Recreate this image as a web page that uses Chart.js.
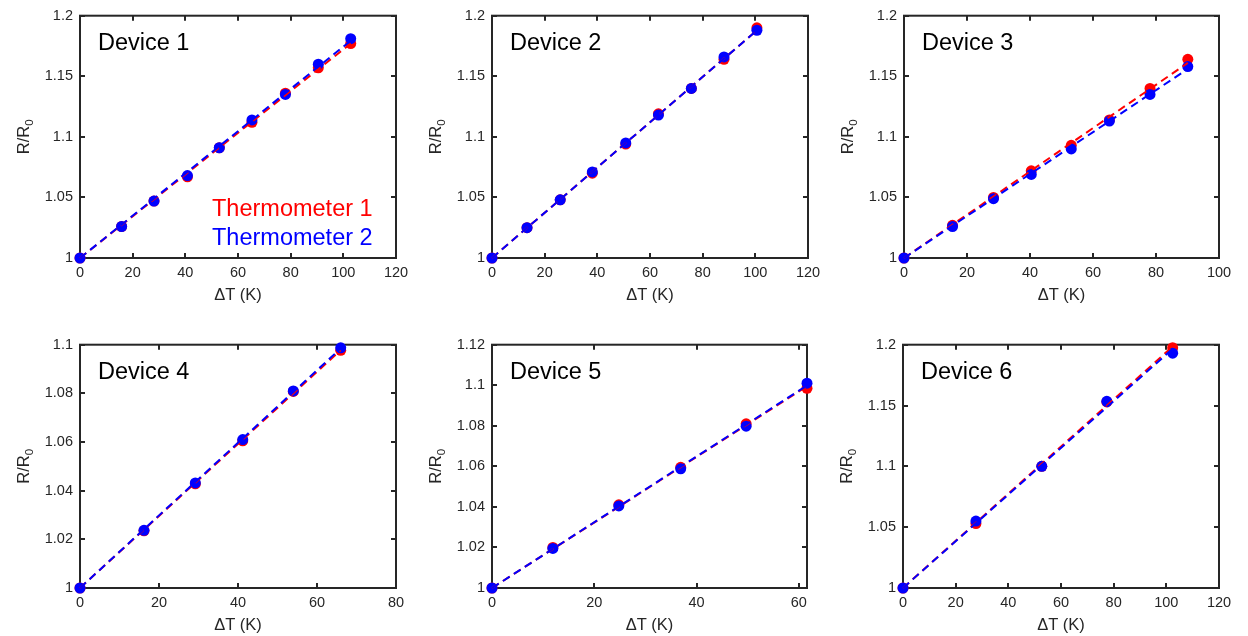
<!DOCTYPE html>
<html>
<head>
<meta charset="utf-8">
<script src="https://cdn.jsdelivr.net/npm/chart.js@4"></script>
<style>
  body { margin: 0; background: #fff; width: 1248px; height: 636px; position: relative; overflow: hidden; }
  canvas { position: absolute; }
</style>
</head>
<body>
<canvas id="c1"></canvas>
<canvas id="c2"></canvas>
<canvas id="c3"></canvas>
<canvas id="c4"></canvas>
<canvas id="c5"></canvas>
<canvas id="c6"></canvas>
<script>
// data: temperature rise (K) and R/R0 for each thermometer
const dev1X = [0, 15.8, 28.1, 40.8, 52.9, 65.3, 78.0, 90.5, 102.8];
const dev1T1 = [1.0, 1.026, 1.047, 1.067, 1.091, 1.112, 1.136, 1.157, 1.177];
const dev1T2 = [1.0, 1.026, 1.047, 1.068, 1.091, 1.114, 1.135, 1.160, 1.181];

const dev2X = [0, 13.3, 25.9, 38.1, 50.8, 63.2, 75.7, 88.1, 100.6];
const dev2T1 = [1.0, 1.025, 1.048, 1.070, 1.094, 1.119, 1.140, 1.164, 1.190];
const dev2T2 = [1.0, 1.025, 1.048, 1.071, 1.095, 1.118, 1.140, 1.166, 1.188];

const dev3X = [0, 15.4, 28.4, 40.4, 53.1, 65.2, 78.1, 90.1];
const dev3T1 = [1.0, 1.027, 1.050, 1.072, 1.093, 1.114, 1.140, 1.164];
const dev3T2 = [1.0, 1.026, 1.049, 1.069, 1.090, 1.113, 1.135, 1.158];

const dev4X = [0, 16.2, 29.2, 41.2, 54.0, 66.0];
const dev4T1 = [1.0, 1.0235, 1.0428, 1.0605, 1.0808, 1.0977];
const dev4T2 = [1.0, 1.0237, 1.0432, 1.0610, 1.0810, 1.0987];

const dev5X = [0, 11.9, 24.8, 36.9, 49.7, 61.6];
const dev5T1 = [1.0, 1.0200, 1.0410, 1.0595, 1.0810, 1.0985];
const dev5T2 = [1.0, 1.0195, 1.0405, 1.0588, 1.0798, 1.1010];

const dev6X = [0, 27.7, 52.7, 77.4, 102.4];
const dev6T1 = [1.0, 1.053, 1.100, 1.153, 1.1975];
const dev6T2 = [1.0, 1.055, 1.100, 1.1535, 1.193];

const deviceNames = ['Device 1', 'Device 2', 'Device 3', 'Device 4', 'Device 5', 'Device 6'];
const seriesNames = ['Thermometer 1', 'Thermometer 2'];

// tick labels of every panel
const xTicks1 = [0, 20, 40, 60, 80, 100, 120];
const xTicks2 = [0, 20, 40, 60, 80, 100, 120];
const xTicks3 = [0, 20, 40, 60, 80, 100];
const xTicks4 = [0, 20, 40, 60, 80];
const xTicks5 = [0, 20, 40, 60];
const xTicks6 = [0, 20, 40, 60, 80, 100, 120];
const yTicks1 = [1, 1.05, 1.1, 1.15, 1.2];
const yTicks2 = [1, 1.05, 1.1, 1.15, 1.2];
const yTicks3 = [1, 1.05, 1.1, 1.15, 1.2];
const yTicks4 = [1, 1.02, 1.04, 1.06, 1.08, 1.1];
const yTicks5 = [1, 1.02, 1.04, 1.06, 1.08, 1.1, 1.12];
const yTicks6 = [1, 1.05, 1.1, 1.15, 1.2];
const xMax5 = 61.6;

const RED = '#ff0000';
const BLUE = '#0000ff';
const AXIS = '#262626';
const FONT = '"Liberation Sans", Arial, Helvetica, sans-serif';

// plot-area placement of each panel on the page
const panels = [
  { left: 80, top: 10, w: 316, h: 248 },
  { left: 492, top: 10, w: 316, h: 248 },
  { left: 904, top: 10, w: 315, h: 248 },
  { left: 80, top: 339, w: 316, h: 249 },
  { left: 492, top: 339, w: 315, h: 249 },
  { left: 903, top: 339, w: 316, h: 249 }
];
const Y_AXIS_W = 80, X_AXIS_H = 50, PAD_TOP = 10, PAD_RIGHT = 24;

const devices = [
  { x: dev1X, t1: dev1T1, t2: dev1T2, xt: xTicks1, yt: yTicks1 },
  { x: dev2X, t1: dev2T1, t2: dev2T2, xt: xTicks2, yt: yTicks2 },
  { x: dev3X, t1: dev3T1, t2: dev3T2, xt: xTicks3, yt: yTicks3 },
  { x: dev4X, t1: dev4T1, t2: dev4T2, xt: xTicks4, yt: yTicks4 },
  { x: dev5X, t1: dev5T1, t2: dev5T2, xt: xTicks5, yt: yTicks5, xmax: xMax5 },
  { x: dev6X, t1: dev6T1, t2: dev6T2, xt: xTicks6, yt: yTicks6 }
];

// least squares line through (0, 1), like the dashed fits
function fitLine(xs, ys) {
  let sxy = 0, sxx = 0;
  xs.forEach((x, i) => { sxy += x * (ys[i] - 1); sxx += x * x; });
  const k = sxy / sxx;
  const last = xs[xs.length - 1];
  return [{ x: 0, y: 1 }, { x: last, y: 1 + k * last }];
}

const fmt = v => String(parseFloat(Number(v).toFixed(3)));

// box round the plot with inward ticks on all four sides
const boxPlugin = {
  id: 'box',
  beforeDatasetsDraw(chart) {
    const { ctx, chartArea: a, scales: { x, y } } = chart;
    const tl = 5;
    ctx.save();
    ctx.strokeStyle = AXIS;
    ctx.lineWidth = 2;
    ctx.beginPath();
    x.ticks.forEach(t => {
      const px = Math.round(x.getPixelForValue(t.value));
      ctx.moveTo(px, a.bottom); ctx.lineTo(px, a.bottom - tl);
      ctx.moveTo(px, a.top); ctx.lineTo(px, a.top + tl);
    });
    y.ticks.forEach(t => {
      const py = Math.round(y.getPixelForValue(t.value));
      ctx.moveTo(a.left, py); ctx.lineTo(a.left + tl, py);
      ctx.moveTo(a.right, py); ctx.lineTo(a.right - tl, py);
    });
    ctx.stroke();
    ctx.strokeRect(a.left, a.top, a.right - a.left, a.bottom - a.top);
    ctx.restore();
  }
};

// axis titles, device name and the legend
const textPlugin = {
  id: 'texts',
  afterDraw(chart) {
    const { ctx, chartArea: a } = chart;
    const idx = chart.options.plugins.texts.index;
    ctx.save();
    ctx.fillStyle = AXIS;
    ctx.font = '16.5px ' + FONT;
    ctx.textAlign = 'center';
    ctx.textBaseline = 'alphabetic';
    ctx.fillText('\u0394T (K)', (a.left + a.right) / 2, a.bottom + 42);

    ctx.save();
    ctx.translate(a.left - 51, (a.top + a.bottom) / 2);
    ctx.rotate(-Math.PI / 2);
    ctx.textAlign = 'left';
    ctx.font = '16.5px ' + FONT;
    const wMain = ctx.measureText('R/R').width;
    ctx.font = '11.5px ' + FONT;
    const wSub = ctx.measureText('0').width;
    const start = -(wMain + wSub) / 2;
    ctx.font = '16.5px ' + FONT;
    ctx.fillText('R/R', start, 0);
    ctx.font = '11.5px ' + FONT;
    ctx.fillText('0', start + wMain, 4);
    ctx.restore();

    ctx.textAlign = 'left';
    ctx.fillStyle = '#000';
    ctx.font = '23.5px ' + FONT;
    ctx.fillText(deviceNames[idx], a.left + 18, a.top + 34);

    if (idx === 0) {
      ctx.fillStyle = RED;
      ctx.fillText(seriesNames[0], a.left + 132, a.bottom - 42);
      ctx.fillStyle = BLUE;
      ctx.fillText(seriesNames[1], a.left + 132, a.bottom - 13);
    }
    ctx.restore();
  }
};

devices.forEach((d, i) => {
  const p = panels[i];
  const canvas = document.getElementById('c' + (i + 1));
  const cw = Y_AXIS_W + p.w + PAD_RIGHT;
  const ch = PAD_TOP + p.h + X_AXIS_H;
  canvas.width = cw; canvas.height = ch;
  canvas.style.width = cw + 'px'; canvas.style.height = ch + 'px';
  canvas.style.left = (p.left - Y_AXIS_W) + 'px';
  canvas.style.top = (p.top - PAD_TOP) + 'px';

  const pts1 = d.x.map((x, k) => ({ x: x, y: d.t1[k] }));
  const pts2 = d.x.map((x, k) => ({ x: x, y: d.t2[k] }));

  new Chart(canvas, {
    type: 'scatter',
    data: {
      datasets: [
        { label: seriesNames[0], data: pts1, pointRadius: 5.5, pointBackgroundColor: RED, pointBorderWidth: 0, borderWidth: 0, showLine: false, clip: false, order: 4 },
        { label: seriesNames[1], data: pts2, pointRadius: 5.5, pointBackgroundColor: BLUE, pointBorderWidth: 0, borderWidth: 0, showLine: false, clip: false, order: 3 },
        { label: 'fit 1', data: fitLine(d.x, d.t1), showLine: true, pointRadius: 0, borderColor: RED, borderWidth: 2, borderDash: [8, 5], clip: false, order: 2 },
        { label: 'fit 2', data: fitLine(d.x, d.t2), showLine: true, pointRadius: 0, borderColor: BLUE, borderWidth: 2, borderDash: [8, 5], clip: false, order: 1 }
      ]
    },
    options: {
      responsive: false,
      animation: false,
      devicePixelRatio: 1,
      layout: { padding: { top: PAD_TOP, right: PAD_RIGHT, left: 0, bottom: 0 } },
      plugins: { legend: { display: false }, tooltip: { enabled: false }, texts: { index: i } },
      scales: {
        x: {
          type: 'linear',
          min: d.xt[0],
          max: d.xmax !== undefined ? d.xmax : d.xt[d.xt.length - 1],
          grid: { display: false, drawTicks: false },
          border: { display: false },
          afterBuildTicks: s => { s.ticks = d.xt.map(v => ({ value: v })); },
          afterFit: s => { s.height = X_AXIS_H; },
          ticks: { color: AXIS, padding: 6, maxRotation: 0, autoSkip: false, font: { family: FONT, size: 14.5 }, callback: fmt }
        },
        y: {
          min: d.yt[0],
          max: d.yt[d.yt.length - 1],
          grid: { display: false, drawTicks: false },
          border: { display: false },
          afterBuildTicks: s => { s.ticks = d.yt.map(v => ({ value: v })); },
          afterFit: s => { s.width = Y_AXIS_W; },
          ticks: { color: AXIS, padding: 7, autoSkip: false, font: { family: FONT, size: 14.5 }, callback: fmt }
        }
      }
    },
    plugins: [boxPlugin, textPlugin]
  });
});
</script>
</body>
</html>
